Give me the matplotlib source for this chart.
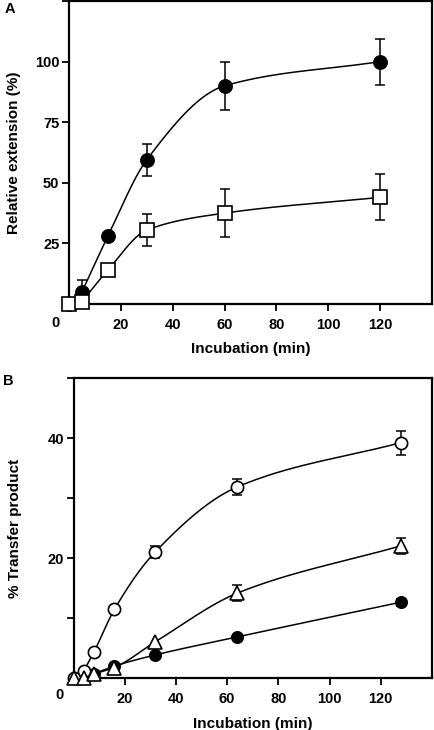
import numpy as np
import matplotlib
matplotlib.use("Agg")
import matplotlib.pyplot as plt

plt.rcParams['font.family'] = ['Liberation Sans', 'DejaVu Sans']
plt.rcParams['font.weight'] = 'bold'

# ---- Panel A data ----
a_x = [0, 5, 15, 30, 60, 120]
a_filled = [0, 5, 28, 59.5, 90, 100]
a_filled_err = [0, 5, 0, 6.5, 10, 9.5]
a_open = [0, 1, 14, 30.5, 37.5, 44]
a_open_err = [0, 0, 0, 6.5, 10, 9.5]

# ---- Panel B data ----
b_x = [0, 4, 8, 16, 32, 64, 128]
b_opencirc = [0, 1.2, 4.4, 11.5, 21.1, 31.9, 39.3]
b_opencirc_err = [0, 0, 0, 0, 1.0, 1.3, 2.0]
b_tri = [0, 0, 0.7, 1.8, 6.1, 14.2, 22.1]
b_tri_err = [0, 0, 0, 0, 0, 1.3, 1.3]
b_filled = [0, 0.3, 0.8, 2.05, 3.9, 6.9, 12.7]
b_filled_err = [0, 0, 0, 0, 0, 0, 0.6]

a_xticks = [20, 40, 60, 80, 100, 120]
a_yticks = [25, 50, 75, 100]
b_xticks = [20, 40, 60, 80, 100, 120]
b_yticks = [20, 40]


def pchip(x, y, xs):
    x = np.asarray(x, float); y = np.asarray(y, float)
    h = np.diff(x); d = np.diff(y) / h
    n = len(x)
    m = np.zeros(n)
    for k in range(1, n - 1):
        if d[k - 1] * d[k] <= 0:
            m[k] = 0
        else:
            w1 = 2 * h[k] + h[k - 1]
            w2 = h[k] + 2 * h[k - 1]
            m[k] = (w1 + w2) / (w1 / d[k - 1] + w2 / d[k])
    m[0] = d[0]
    m[-1] = d[-1]
    out = np.empty_like(xs)
    for i, xv in enumerate(xs):
        k = min(np.searchsorted(x, xv, side='right') - 1, n - 2)
        k = max(k, 0)
        t = (xv - x[k]) / h[k]
        h00 = 2 * t**3 - 3 * t**2 + 1
        h10 = t**3 - 2 * t**2 + t
        h01 = -2 * t**3 + 3 * t**2
        h11 = t**3 - t**2
        out[i] = h00 * y[k] + h10 * h[k] * m[k] + h01 * y[k + 1] + h11 * h[k] * m[k + 1]
    return out


fig = plt.figure(figsize=(4.34, 7.30), dpi=100)
W, H = 434, 730

def add_axes(l, t, r, b):
    return fig.add_axes([l / W, 1 - b / H, (r - l) / W, (b - t) / H])

lw = 1.1
sp_lw = 1.6

def style(ax):
    for s in ax.spines.values():
        s.set_linewidth(sp_lw)
    ax.tick_params(axis='both', direction='out', width=1.3, length=5, labelsize=10.5)
    ax.tick_params(axis='x', pad=5)
    ax.tick_params(axis='y', pad=2)
    for lab in ax.get_xticklabels() + ax.get_yticklabels():
        lab.set_fontweight('bold')


def series(ax, x, y, err, marker, face, ms, z, start):
    x = np.asarray(x, float); y = np.asarray(y, float)
    xs = np.linspace(x[start], x[-1], 300)
    ax.plot(xs, pchip(x[start:], y[start:], xs), color='black', lw=lw, zorder=z)
    err = np.asarray(err, float)
    mask = err > 0
    ax.errorbar(x[mask], y[mask], yerr=err[mask], fmt='none', ecolor='black',
                elinewidth=lw, capsize=3.6, capthick=lw, zorder=z)
    ax.plot(x, y, linestyle='none', marker=marker, markerfacecolor=face,
            markeredgecolor='black', markeredgewidth=1.2, markersize=ms, zorder=z + 0.5,
            clip_on=False)

# ---- Panel A ----
axA = add_axes(69, 1, 432, 304)
axA.set_xlim(0, 140)
axA.set_ylim(0, 125)
series(axA, a_x, a_filled, a_filled_err, 'o', 'black', 9.5, 3, 1)
series(axA, a_x, a_open, a_open_err, 's', 'white', 10, 4, 1)
axA.set_xticks(a_xticks)
axA.set_yticks(a_yticks + [125])
axA.set_yticklabels([str(v) for v in a_yticks] + [''])
style(axA)
axA.annotate('0', xy=(0, 0), xycoords=('data', 'axes fraction'), xytext=(-14, -19),
             textcoords='offset pixels', ha='center', va='center', fontsize=10.5,
             fontweight='bold')
axA.set_xlabel('Incubation (min)', fontsize=11, fontweight='bold', labelpad=7.5)
axA.set_ylabel('Relative extension (%)', fontsize=11, fontweight='bold', labelpad=10)
fig.text(5 / W, 1 - 9 / H, 'A', fontsize=10.5, fontweight='bold', va='center', ha='left')

# ---- Panel B ----
axB = add_axes(73.5, 378.3, 432, 678.3)
axB.set_xlim(0, 140)
axB.set_ylim(0, 50)
series(axB, b_x, b_filled, b_filled_err, 'o', 'black', 8.2, 3, 1)
series(axB, b_x, b_opencirc, b_opencirc_err, 'o', 'white', 8.8, 4, 1)
series(axB, b_x, b_tri, b_tri_err, '^', 'white', 9.5, 5, 1)
axB.set_xticks(b_xticks)
axB.set_yticks([10, 20, 30, 40, 50])
axB.set_yticklabels(['', '20', '', '40', ''])
style(axB)
axB.annotate('0', xy=(0, 0), xycoords=('data', 'axes fraction'), xytext=(-14, -17),
             textcoords='offset pixels', ha='center', va='center', fontsize=10.5,
             fontweight='bold')
axB.set_xlabel('Incubation (min)', fontsize=11, fontweight='bold', labelpad=8)
axB.set_ylabel('% Transfer product', fontsize=11, fontweight='bold', labelpad=18)
fig.text(3 / W, 1 - 381 / H, 'B', fontsize=10.5, fontweight='bold', va='center', ha='left')

fig.savefig('out.png', dpi=100)
